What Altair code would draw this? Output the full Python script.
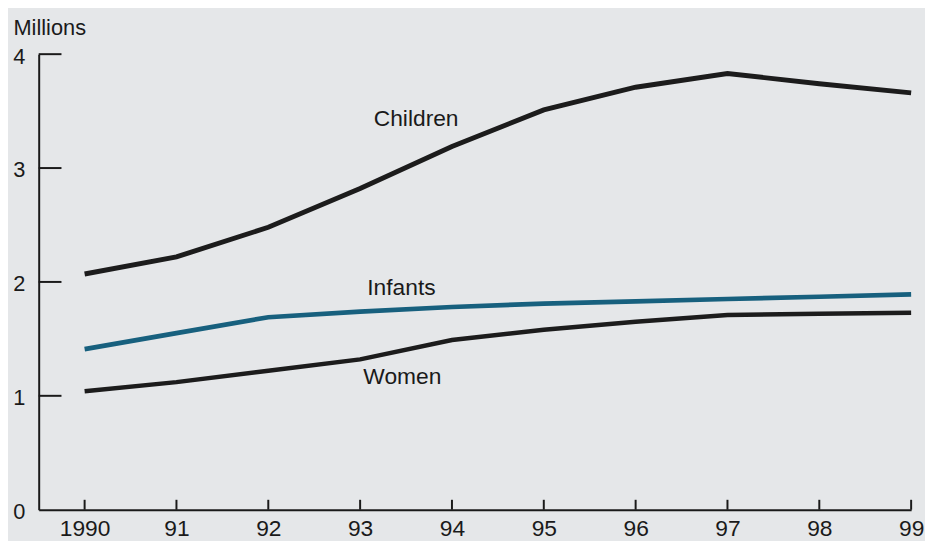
import altair as alt
import pandas as pd

# ---- data ----
years = [1990, 1991, 1992, 1993, 1994, 1995, 1996, 1997, 1998, 1999]
children = [2.07, 2.22, 2.48, 2.82, 3.19, 3.51, 3.71, 3.83, 3.74, 3.66]
infants = [1.41, 1.55, 1.69, 1.74, 1.78, 1.81, 1.83, 1.85, 1.87, 1.89]
women = [1.04, 1.12, 1.22, 1.32, 1.49, 1.58, 1.65, 1.71, 1.72, 1.73]
x_tick_labels = ["1990", "91", "92", "93", "94", "95", "96", "97", "98", "99"]
y_ticks = [0, 1, 2, 3, 4]
series_names = ["Children", "Infants", "Women"]
# label anchors (year, value) for the series names
label_years = [1993.61, 1993.45, 1993.46]
label_values = [3.365, 1.887, 1.104]

FONT = "Liberation Sans"
BG = "#e5e7e9"

rows = []
for name, vals in zip(series_names, [children, infants, women]):
    for yr, v in zip(years, vals):
        rows.append({"year": yr, "value": v, "series": name})
df = pd.DataFrame(rows)

labels_df = pd.DataFrame({"year": label_years, "value": label_values, "text": series_names})
xt_df = pd.DataFrame({"year": years})
yt_df = pd.DataFrame({"value": y_ticks[1:]})

label_expr = "[" + ",".join("'%s'" % s for s in x_tick_labels) + "][datum.value - 1990]"

xscale = alt.Scale(domain=[1989.5, 1999], nice=False, zero=False)
yscale = alt.Scale(domain=[0, 4], nice=False)

xaxis = alt.Axis(values=years, labelExpr=label_expr, ticks=False, grid=False,
                 domainColor="#1a1a1a", domainWidth=2, labelFont=FONT, labelFontSize=23,
                 labelColor="#1a1a1a", labelPadding=8, title=None, labelFlush=False)
yaxis = alt.Axis(values=y_ticks, format="d", ticks=False, grid=False, domainColor="#1a1a1a",
                 domainWidth=2, labelFont=FONT, labelFontSize=22, labelColor="#1a1a1a",
                 labelPadding=14, labelOffset=2, labelFlush=False,
                 title="Millions", titleAngle=0,
                 titleAlign="left", titleBaseline="alphabetic", titleX=-26, titleY=-20,
                 titleFont=FONT, titleFontSize=22, titleFontWeight="normal",
                 titleColor="#1a1a1a")

base = alt.Chart(df)

color_scale = alt.Scale(domain=series_names, range=["#1c1c1c", "#17607e", "#1c1c1c"])
width_scale = alt.Scale(domain=series_names, range=[5, 4.5, 2.2])

lines = base.mark_line(strokeCap="butt", strokeJoin="miter").encode(
    x=alt.X("year:Q", scale=xscale, axis=xaxis),
    y=alt.Y("value:Q", scale=yscale, axis=yaxis),
    color=alt.Color("series:N", scale=color_scale, legend=None),
    strokeWidth=alt.StrokeWidth("series:N", scale=width_scale, legend=None),
    detail="series:N",
)

xticks = alt.Chart(xt_df).mark_rule(color="#1a1a1a", strokeWidth=2).encode(
    x=alt.X("year:Q", scale=xscale),
    y=alt.value(460),
    y2=alt.value(450),
)

yticks = alt.Chart(yt_df).mark_rule(color="#1a1a1a", strokeWidth=2).encode(
    y=alt.Y("value:Q", scale=yscale),
    x=alt.value(0),
    x2=alt.value(23),
)

texts = alt.Chart(labels_df).mark_text(font=FONT, fontSize=23, color="#1a1a1a",
                                       align="center", baseline="alphabetic").encode(
    x=alt.X("year:Q", scale=xscale),
    y=alt.Y("value:Q", scale=yscale),
    text="text:N",
)

chart = alt.layer(lines, xticks, yticks, texts).properties(
    width=881, height=460,
    background=BG,
    autosize=alt.AutoSizeParams(type="none"),
    padding={"left": 31, "top": 44, "right": 14, "bottom": 30},
).configure_view(stroke=None)

chart.save("out.html", embed_options={"renderer": "svg", "actions": False})
